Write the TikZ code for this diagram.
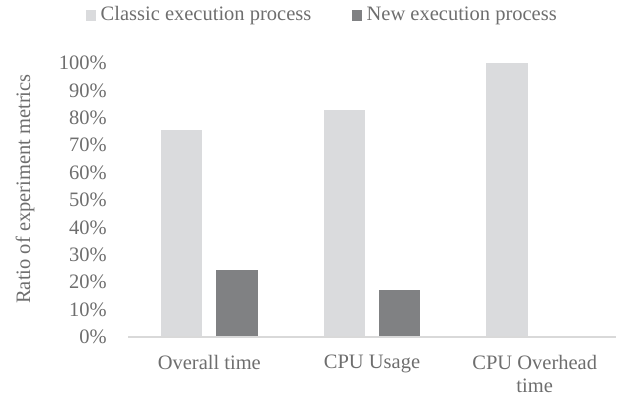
\documentclass[tikz,border=0pt]{standalone}
\usepackage{fontspec}
\setmainfont{Liberation Serif}
\usetikzlibrary{positioning}
\definecolor{classic}{RGB}{218,219,221}
\definecolor{newgray}{RGB}{128,129,131}
\definecolor{axisgray}{RGB}{217,217,217}
\definecolor{textgray}{RGB}{110,110,110}

\tikzset{
  lbl/.style={text=textgray, font=\fontsize{20.5bp}{23bp}\selectfont, inner sep=0pt},
  keybox/.style={minimum size=10.5bp, inner sep=0pt},
}

\begin{document}
\begin{tikzpicture}[x=1bp, y=-1bp]
    \useasboundingbox (0,0) rectangle (620,398);

    % Legend at the top
    \node[keybox, fill=classic] (keyC) at (91,15.5) {};
    \node[lbl, right=4bp of keyC] (keyCtext) {Classic execution process};
    \node[keybox, fill=newgray] (keyN) at (357,15.5) {};
    \node[lbl, right=4bp of keyN] (keyNtext) {New execution process};

    % Tick labels 0% ... 100% (10% = 27.4 units)
    \foreach \p in {0,10,...,100} {
        \node[lbl, anchor=east] (tick\p) at (107,{337-2.74*\p}) {\p\%};
    }

    % Y axis title
    \node[lbl, rotate=90] (ytitle) at (25,189) {Ratio of experiment metrics};

    % Bars: center of category / classic value / new value
    \foreach \c/\a/\b in {209.3/75.7/24.3, 372/82.7/17.3, 534.7/100/0} {
        \fill[classic] (\c-48.45,337) rectangle (\c-6.95,{337-2.74*\a}); % classic bar
        \fill[newgray] (\c+6.95,337) rectangle (\c+48.45,{337-2.74*\b}); % new bar
    }

    % Horizontal axis line
    \draw[axisgray, line width=2bp] (128,337) -- (616,337);

    % Category labels under the axis
    \node[lbl, anchor=north] (cat1) at (209.3,355) {Overall time};
    \node[lbl, anchor=north] (cat2) at (372,355) {CPU Usage};
    \node[lbl, anchor=north, align=center] (cat3) at (534.7,355) {CPU Overhead\\time};
\end{tikzpicture}
\end{document}
